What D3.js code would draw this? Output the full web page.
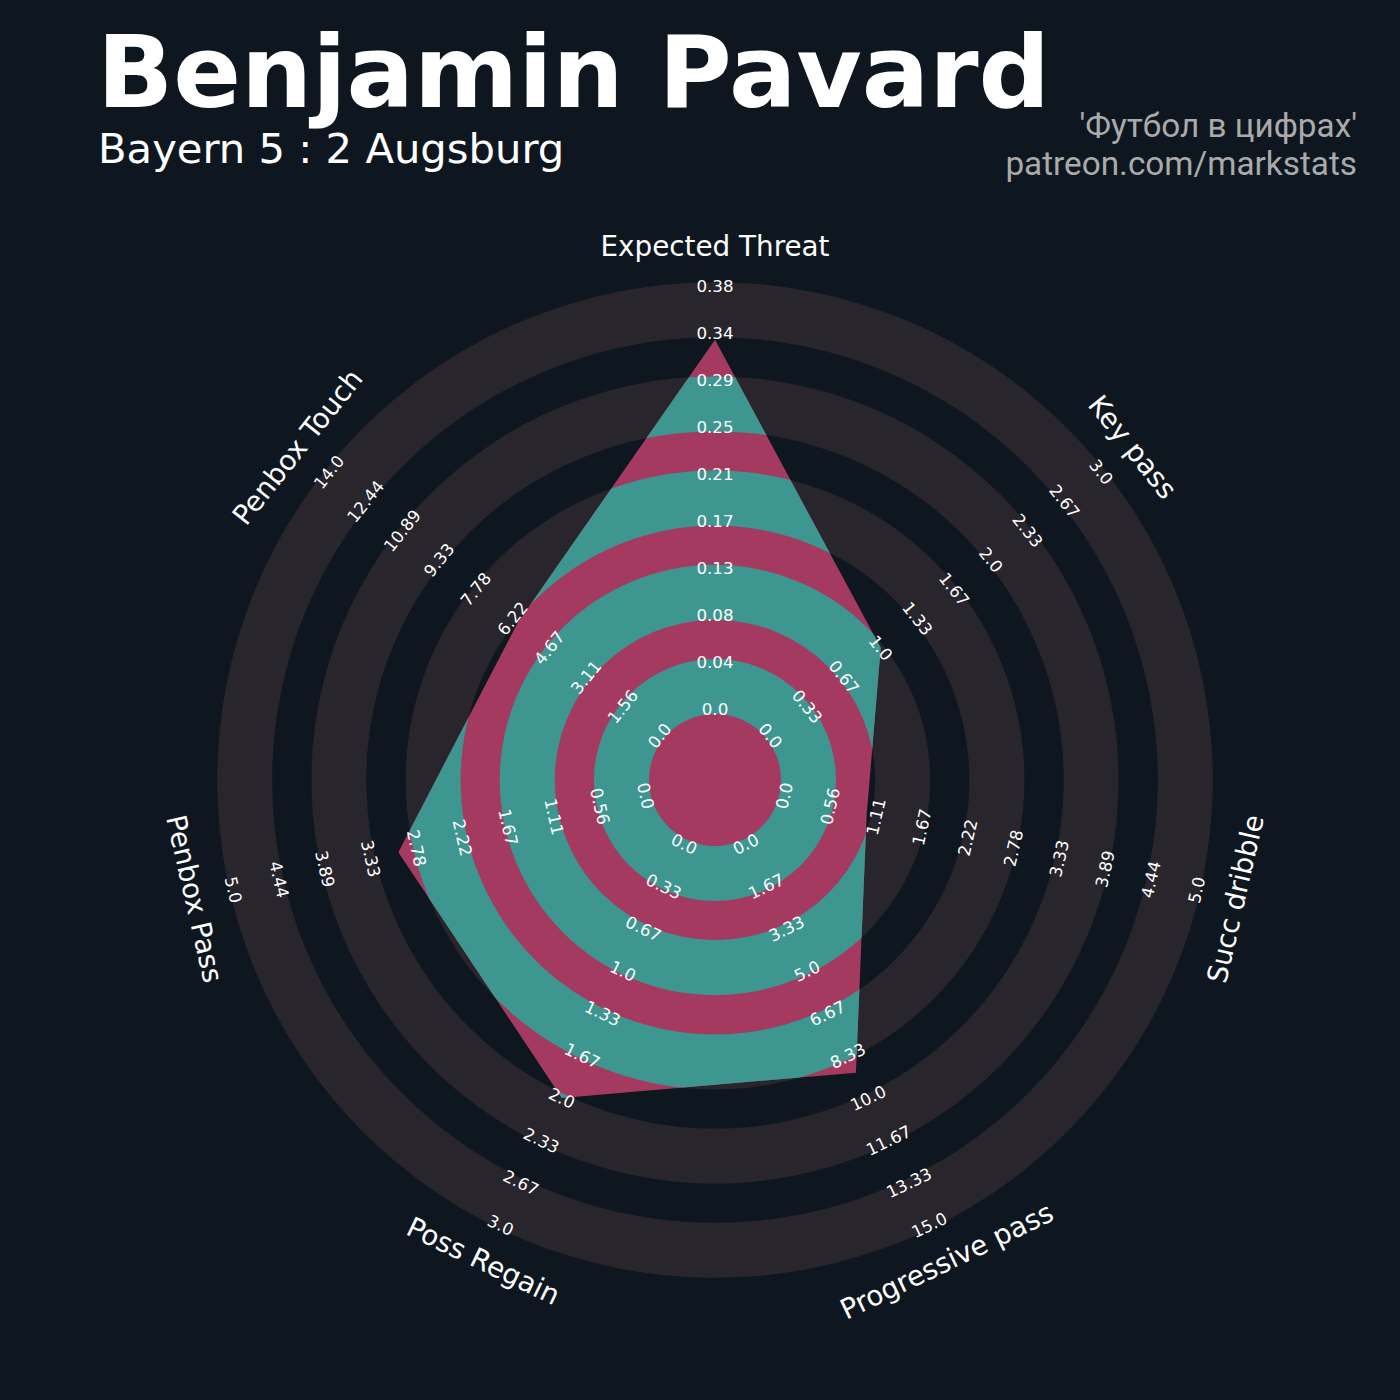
<!DOCTYPE html>
<html>
<head>
<meta charset="utf-8">
<script src="https://cdn.jsdelivr.net/npm/d3@7"></script>
<style>
  html, body { margin: 0; padding: 0; background: #0e1720; }
  svg { display: block; }
</style>
</head>
<body>
<svg id="chart" width="1400" height="1400"></svg>
<script>
// ---------------- DATA ----------------
const params = ["Expected Threat", "Key pass", "Succ dribble", "Progressive pass",
                "Poss Regain", "Penbox Pass", "Penbox Touch"];
const minRange = [0, 0, 0, 0, 0, 0, 0];
const maxRange = [0.378, 3.0, 5.0, 15.0, 3.0, 5.0, 14.0];
const values = [0.33, 1.0, 1.0, 9.0, 2.0, 3.0, 6.0];
const rangeLabels = [
  ["0.0", "0.04", "0.08", "0.13", "0.17", "0.21", "0.25", "0.29", "0.34", "0.38"],
  ["0.0", "0.33", "0.67", "1.0", "1.33", "1.67", "2.0", "2.33", "2.67", "3.0"],
  ["0.0", "0.56", "1.11", "1.67", "2.22", "2.78", "3.33", "3.89", "4.44", "5.0"],
  ["0.0", "1.67", "3.33", "5.0", "6.67", "8.33", "10.0", "11.67", "13.33", "15.0"],
  ["0.0", "0.33", "0.67", "1.0", "1.33", "1.67", "2.0", "2.33", "2.67", "3.0"],
  ["0.0", "0.56", "1.11", "1.67", "2.22", "2.78", "3.33", "3.89", "4.44", "5.0"],
  ["0.0", "1.56", "3.11", "4.67", "6.22", "7.78", "9.33", "10.89", "12.44", "14.0"]
];
const titleText = "Benjamin Pavard";
const subtitleText = "Bayern 5 : 2 Augsburg";
const creditLines = ["'Футбол в цифрах'", "patreon.com/markstats"];

// ---------------- STYLE / LAYOUT ----------------
const W = 1400, H = 1400;
const cx = 715, cy = 780;
const bg = "#0e1720", ringGrey = "#28252c", pink = "#a43a60", teal = "#3d9690";
const rInner = 71, rOuter = 494;           // value -> radius
const ringStart = 66, ringPeriod = 94.2, ringW = 55, nRings = 5;
const labelR = 534;

const svg = d3.select("#chart");
svg.append("rect").attr("width", W).attr("height", H).attr("fill", bg);

const n = params.length;
const angle = i => i * 2 * Math.PI / n;
const scales = params.map((p, i) =>
  d3.scaleLinear().domain([minRange[i], maxRange[i]]).range([rInner, rOuter]));

const g = svg.append("g").attr("transform", `translate(${cx},${cy})`);

// rings (outside polygon: grey)
const arc = d3.arc().startAngle(0).endAngle(2 * Math.PI);
const rings = d3.range(nRings).map(k => ({inner: ringStart + k * ringPeriod, outer: ringStart + k * ringPeriod + ringW}));
g.append("g").selectAll("path").data(rings).join("path")
  .attr("d", d => arc({innerRadius: d.inner, outerRadius: d.outer}))
  .attr("fill", ringGrey);

// radar polygon
const radial = d3.lineRadial()
  .angle((d, i) => angle(i))
  .radius((d, i) => scales[i](d))
  .curve(d3.curveLinearClosed);
const polyPath = radial(values);

svg.append("defs").append("clipPath").attr("id", "polyClip")
  .append("path").attr("d", polyPath);

g.append("path").attr("d", polyPath).attr("fill", pink);
g.append("g").attr("clip-path", "url(#polyClip)")
  .selectAll("path").data(rings).join("path")
  .attr("d", d => arc({innerRadius: d.inner, outerRadius: d.outer}))
  .attr("fill", teal);

function rot(i) {
  let deg = angle(i) * 180 / Math.PI;
  if (deg > 90 && deg < 270) deg -= 180;
  return deg;
}
function pos(i, r) {
  const a = angle(i);
  return [r * Math.sin(a), -r * Math.cos(a)];
}

// range labels
params.forEach((p, i) => {
  const labs = rangeLabels[i];
  const step = (maxRange[i] - minRange[i]) / (labs.length - 1);
  g.append("g").selectAll("text").data(labs).join("text")
    .attr("transform", (d, j) => {
      const [x, y] = pos(i, scales[i](minRange[i] + j * step));
      return `translate(${x},${y}) rotate(${rot(i)})`;
    })
    .attr("text-anchor", "middle")
    .attr("dominant-baseline", "central")
    .attr("font-family", "DejaVu Sans")
    .attr("font-size", 16.7)
    .attr("fill", "#ffffff")
    .text(d => d);
});

// parameter labels
g.append("g").selectAll("text").data(params).join("text")
  .attr("transform", (d, i) => {
    const [x, y] = pos(i, labelR);
    return `translate(${x},${y}) rotate(${rot(i)})`;
  })
  .attr("text-anchor", "middle")
  .attr("dominant-baseline", "central")
  .attr("font-family", "DejaVu Sans")
  .attr("font-size", 27.8)
  .attr("fill", "#ffffff")
  .text(d => d);

// titles
svg.append("text").attr("x", 97).attr("y", 107)
  .attr("font-family", "DejaVu Sans").attr("font-weight", "bold")
  .attr("font-size", 100).attr("fill", "#ffffff").text(titleText);
svg.append("text").attr("x", 98).attr("y", 163)
  .attr("font-family", "DejaVu Sans")
  .attr("font-size", 41.7).attr("fill", "#ffffff").text(subtitleText);
svg.append("g").selectAll("text").data(creditLines).join("text")
  .attr("x", 1357).attr("y", (d, i) => 137 + i * 38)
  .attr("text-anchor", "end")
  .attr("font-family", "Roboto")
  .attr("font-size", 33.3).attr("fill", "#aaaaaa").text(d => d);
</script>
</body>
</html>
